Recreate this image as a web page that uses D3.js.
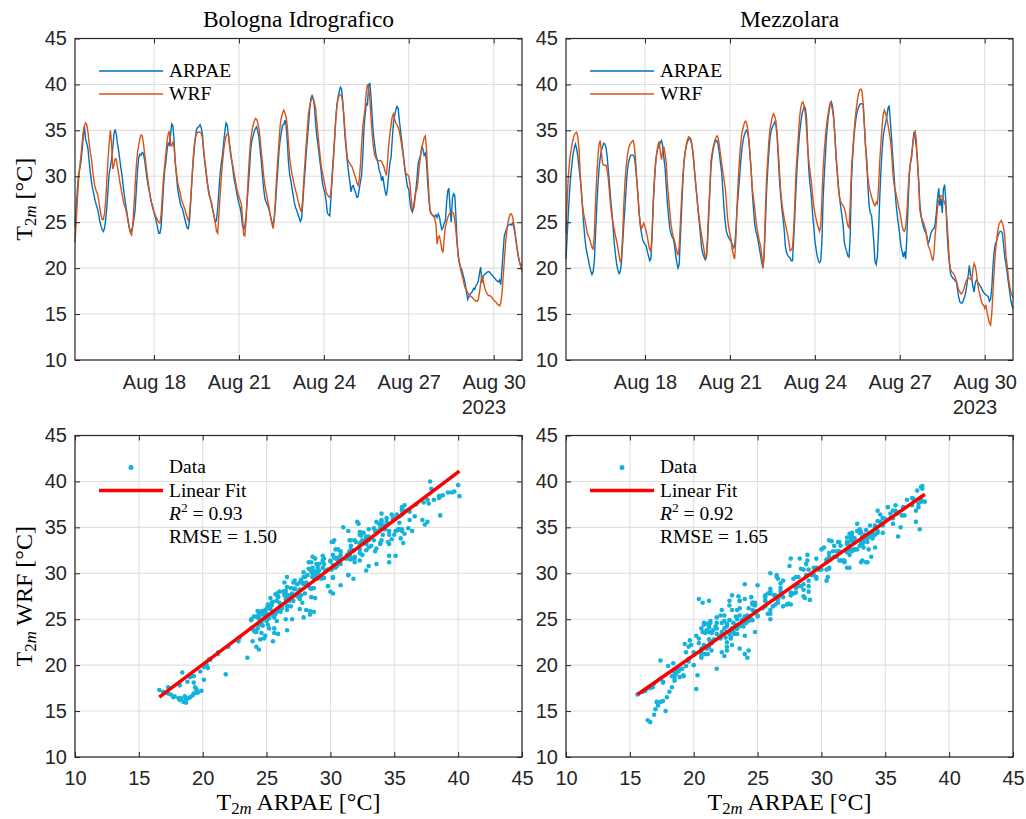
<!DOCTYPE html>
<html>
<head>
<meta charset="utf-8">
<title>T2m ARPAE vs WRF</title>
<script src="https://cdn.jsdelivr.net/npm/d3@7"></script>
<style>
  body { margin: 0; background: #fff; }
  .tick text { font-family: "Liberation Sans", Arial, Helvetica, sans-serif; font-size: 20px; fill: #262626; }
  .yr { font-family: "Liberation Sans", Arial, Helvetica, sans-serif; font-size: 20px; fill: #262626; }
  .tex { font-family: "Liberation Serif", "Times New Roman", serif; fill: #000; }
</style>
</head>
<body>
<svg id="chart" width="1026" height="819"></svg>
<script>
// hourly 2 m temperature, first value 15 Aug 2023 05:00, last 31 Aug 00:00
var hourStart = "2023-08-15T05:00:00Z";
var stations = ["Bologna Idrografico", "Mezzolara"];
var seriesNames = ["ARPAE", "WRF"];

var bolognaArpae = [
  24.5,26.5,28.5,30.2,30.8,31.5,32.8,34.3,35.4,34.0,33.6,33.0,31.6,30.4,29.4,28.6,28.0,27.4,26.9,
  26.5,25.9,25.1,24.6,24.2,24.0,24.3,25.3,26.6,28.6,30.3,31.0,31.9,33.0,34.6,35.1,34.6,33.6,32.8,31.8,30.8,30.0,28.8,27.8,
  26.9,26.1,25.2,24.4,24.0,24.1,24.6,25.4,26.4,28.5,30.6,32.0,32.4,32.3,32.6,32.5,31.8,30.8,29.8,29.0,28.4,27.7,27.1,26.6,
  26.1,25.6,25.0,24.4,23.8,23.8,24.5,26.5,28.8,30.6,31.5,32.8,33.6,33.4,34.5,35.7,35.5,33.9,31.4,30.1,28.7,27.9,27.2,26.7,
  26.5,26.0,25.4,24.9,24.4,24.3,25.0,27.0,29.3,31.2,32.8,34.1,35.1,35.3,35.4,35.6,35.3,34.6,33.0,31.5,30.5,29.5,28.7,28.0,
  27.4,26.8,26.2,25.6,25.0,25.2,26.6,28.4,30.2,31.4,32.3,33.6,34.8,35.8,35.6,34.6,33.4,32.3,31.6,30.6,29.6,29.0,28.3,27.6,
  27.0,26.6,25.8,24.6,24.2,24.6,25.6,27.4,29.0,30.8,33.0,33.9,34.4,34.9,35.2,35.4,34.9,34.2,32.8,31.6,30.0,28.6,27.6,27.2,
  26.9,26.6,26.1,25.5,25.0,24.7,25.5,27.0,29.0,30.8,32.8,34.0,34.8,35.6,35.6,36.1,35.6,33.8,31.5,30.2,29.5,28.7,27.9,27.1,
  26.6,26.3,25.9,25.5,25.1,25.3,26.8,28.8,30.5,32.4,34.0,35.6,37.3,38.5,38.8,38.5,37.6,35.8,34.4,33.5,32.3,31.3,30.2,29.1,
  28.6,28.1,27.2,26.0,25.8,25.7,27.6,30.2,31.9,34.0,36.2,37.7,38.6,39.2,39.7,39.5,38.1,36.2,34.2,32.8,31.5,30.4,29.4,28.3,
  28.9,29.0,28.5,28.2,27.7,27.8,28.6,29.4,30.1,32.2,35.2,36.7,37.9,37.8,40.0,40.1,38.6,36.4,34.6,33.5,32.5,31.9,31.4,30.6,
  30.3,29.5,30.0,29.1,28.3,27.9,28.8,30.2,31.4,32.1,34.0,35.8,36.6,37.2,37.6,37.4,36.1,35.0,33.9,32.8,31.6,30.4,29.6,28.8,
  28.6,27.2,26.4,26.1,26.6,27.6,28.5,29.8,31.4,31.9,32.3,33.2,33.0,32.3,32.5,31.6,29.4,27.6,26.2,25.9,25.8,25.7,25.6,25.8,
  25.5,25.9,25.6,24.8,24.2,24.4,24.9,25.1,27.0,28.4,28.7,26.6,25.0,27.6,28.1,27.9,25.6,22.8,21.2,20.5,20.1,19.8,19.3,18.8,
  18.2,17.3,16.6,16.9,17.2,17.3,17.5,17.8,17.7,18.1,18.3,18.6,19.5,20.1,18.4,19.0,19.3,19.4,19.5,19.6,19.6,19.5,19.3,19.2,
  19.0,18.9,18.7,18.6,18.5,18.7,18.2,19.9,21.8,23.5,23.9,24.3,24.6,24.7,24.8,24.7,24.9,24.5,23.8,22.9,22.0,21.2,20.6,20.3,
  20.4
];

var bolognaWrf = [
  22.8,25.0,27.4,29.5,31.0,32.2,33.6,34.8,35.5,35.8,35.6,34.8,33.6,32.6,31.9,30.6,29.6,28.8,28.4,
  28.1,27.5,26.6,25.8,25.3,25.3,25.9,27.3,29.6,31.8,33.6,35.0,33.6,30.8,31.2,31.9,31.9,31.0,30.3,29.4,28.7,28.0,27.3,26.8,
  26.4,25.8,25.1,24.4,23.8,23.6,24.6,26.8,29.0,31.2,32.6,33.4,34.1,34.5,34.4,33.6,32.5,31.5,30.4,29.4,28.4,27.6,27.0,26.5,
  26.1,25.8,25.5,25.2,25.0,24.9,25.8,27.8,29.8,31.2,32.4,33.8,34.6,34.9,33.4,33.3,33.8,33.2,31.6,30.4,29.4,28.8,28.3,27.6,
  27.2,26.8,26.5,26.0,25.6,25.2,25.6,27.3,29.4,31.6,33.2,34.2,34.6,34.8,34.8,34.8,34.7,34.2,32.8,31.8,30.8,29.5,28.4,27.8,
  27.5,27.0,26.2,25.6,24.9,24.0,23.8,25.9,27.8,29.8,31.4,32.7,33.7,34.3,34.6,34.6,33.6,32.6,31.7,31.0,30.3,29.5,28.8,28.2,
  27.8,27.4,27.0,25.6,23.6,23.5,25.2,27.8,30.2,32.4,34.0,34.9,35.6,36.0,36.3,36.2,35.8,35.2,34.0,32.6,31.4,30.0,29.0,28.3,
  27.6,27.0,26.2,25.5,24.8,24.3,25.4,27.6,30.0,32.0,33.8,35.6,36.4,36.9,37.2,36.9,36.4,35.4,33.6,32.0,31.0,30.2,29.6,29.0,
  28.5,28.0,27.4,26.9,26.4,26.1,27.4,29.6,31.6,33.4,35.2,36.8,37.7,38.2,38.5,38.4,38.0,37.4,36.0,34.6,33.2,32.0,30.9,30.3,
  29.6,29.0,28.3,28.0,27.8,27.7,28.2,29.6,31.6,33.6,35.8,37.6,38.4,38.8,38.9,38.8,38.0,36.7,34.8,33.2,31.9,31.6,31.4,31.2,
  31.0,30.6,30.2,29.8,29.3,29.0,29.6,31.2,33.4,35.4,36.4,37.5,39.2,40.0,39.6,38.4,36.3,34.6,33.2,32.4,32.0,31.8,31.7,31.7,
  31.7,31.6,31.3,31.0,30.5,30.1,31.6,33.4,34.6,35.6,36.5,36.8,36.2,35.8,35.6,35.3,34.9,34.2,33.3,32.5,31.5,30.6,30.2,30.2,
  30.0,29.2,27.6,26.4,26.4,27.2,28.3,28.6,29.8,31.2,32.2,33.0,33.6,34.2,34.4,33.0,30.6,28.2,26.4,26.0,25.8,25.6,25.4,24.8,
  22.6,23.4,23.5,22.9,22.0,21.7,23.2,24.4,25.0,25.5,25.8,26.0,26.1,26.1,26.0,25.2,24.0,22.6,21.4,20.6,19.8,19.3,18.8,18.2,
  17.8,17.6,17.3,17.1,17.0,16.9,16.8,16.6,16.5,16.4,16.4,16.6,17.4,18.4,19.2,18.7,18.1,17.6,17.3,17.1,17.0,17.0,16.9,16.7,
  16.5,16.4,16.3,16.1,16.0,15.9,16.2,17.2,19.0,20.8,22.6,24.0,24.9,25.5,25.9,25.9,25.6,24.9,24.0,23.0,22.0,21.2,20.6,20.1,
  19.7
];

var mezzolaraArpae = [
  21.0,23.5,26.0,28.3,30.0,31.3,32.4,33.1,33.5,33.0,32.2,31.0,29.8,28.6,26.6,24.8,23.3,22.2,21.5,
  20.9,20.2,19.7,19.3,19.6,20.7,23.6,26.5,28.9,30.8,32.0,32.8,33.2,33.6,33.5,33.1,32.0,30.5,29.0,27.3,26.0,24.3,22.6,21.4,
  20.4,19.8,19.4,19.6,20.6,22.6,24.8,26.6,28.8,30.6,31.5,32.0,32.3,32.3,32.3,32.1,31.0,29.6,28.0,26.0,24.6,23.8,23.1,22.8,
  22.6,22.4,21.8,21.3,20.8,21.0,23.4,27.0,29.4,31.6,32.6,33.1,33.3,33.7,33.9,33.3,32.0,30.9,28.9,27.0,25.6,24.3,23.8,23.4,
  23.2,22.5,21.4,20.6,20.0,20.4,23.4,26.3,29.2,31.6,32.6,33.3,33.8,34.0,34.2,34.0,33.2,32.2,30.6,29.0,27.8,26.2,25.0,23.6,
  22.2,21.6,21.2,20.9,21.1,22.8,25.6,28.6,31.2,32.3,33.1,33.6,33.9,33.9,33.4,32.5,31.4,30.4,28.4,26.5,25.0,24.0,23.6,23.3,
  23.1,22.9,22.6,22.2,22.4,24.0,26.4,28.0,29.6,31.4,32.8,33.8,34.4,34.8,35.0,34.8,34.0,32.4,30.6,28.2,26.4,24.8,24.0,23.6,
  22.9,22.1,21.4,20.6,20.0,21.4,24.6,28.2,30.6,32.6,34.2,35.0,35.4,35.6,35.9,35.6,34.4,32.0,29.6,28.0,26.5,25.4,24.2,22.4,
  21.7,21.4,21.2,21.1,20.8,20.8,23.0,25.6,28.6,31.2,33.0,34.6,35.8,36.7,37.2,37.6,37.4,36.2,33.0,30.4,29.0,27.8,26.0,24.6,
  23.0,22.1,21.3,20.8,20.6,20.8,23.0,27.5,30.2,32.4,34.6,36.0,37.1,37.8,38.1,37.6,36.3,34.4,32.0,30.4,29.0,27.6,26.6,25.6,
  24.6,22.8,22.2,21.8,21.3,21.2,23.6,29.4,32.0,34.0,35.4,36.4,37.1,37.5,37.8,37.9,37.9,37.8,35.6,33.2,31.8,28.8,26.8,26.0,
  25.8,24.5,22.8,20.7,20.4,21.2,24.0,27.6,30.6,32.8,34.4,35.2,35.8,36.5,37.4,37.7,36.0,34.2,32.2,30.4,28.4,26.8,25.6,24.6,
  23.6,22.4,21.8,21.2,21.8,21.0,23.4,26.8,30.0,31.4,32.0,33.6,34.8,34.2,33.2,31.8,29.6,27.0,25.8,25.0,24.5,24.1,23.9,23.4,
  22.6,23.0,23.6,24.0,24.2,24.3,24.8,26.0,27.6,28.7,26.8,27.6,26.0,28.6,29.1,27.4,24.2,22.0,20.6,19.4,19.1,18.9,18.8,18.6,
  18.5,17.6,16.8,16.3,16.2,16.2,16.5,16.9,17.4,18.3,19.2,20.3,19.2,18.9,18.0,17.4,18.4,18.7,18.5,18.3,18.1,17.9,17.6,17.4,
  17.2,17.1,17.0,16.9,16.4,16.6,17.8,20.2,21.8,22.6,22.9,23.4,23.8,24.0,24.0,23.8,22.6,21.2,20.5,19.6,18.5,17.6,16.6,16.0,
  15.6
];

var mezzolaraWrf = [
  23.8,27.5,30.0,31.6,32.6,33.4,34.0,34.5,34.7,34.8,34.3,33.0,30.4,28.2,26.8,25.9,25.3,24.6,23.8,
  23.5,23.2,22.7,22.3,22.0,23.6,27.0,29.8,32.0,33.5,33.9,32.6,31.4,31.2,31.2,31.2,30.6,29.6,28.0,26.6,25.6,24.8,24.2,23.5,
  22.9,22.2,21.4,20.7,21.0,23.6,26.8,29.4,31.0,32.2,33.0,33.4,33.6,33.8,33.9,33.2,31.8,29.6,27.9,26.0,24.9,24.3,24.6,24.9,
  24.5,24.0,23.4,22.6,22.0,21.8,24.0,27.4,29.8,31.4,32.6,33.4,33.8,32.6,31.8,32.8,33.2,32.4,31.4,29.2,27.6,26.2,24.8,24.0,
  23.4,23.0,22.4,21.8,21.4,22.4,25.0,27.6,29.8,31.4,32.6,33.4,34.0,34.3,34.2,33.8,33.2,32.0,30.5,29.2,27.8,26.4,25.4,24.4,
  23.6,22.8,22.0,21.2,21.2,23.4,26.4,28.8,31.8,32.6,33.3,33.8,34.2,34.4,34.2,33.4,32.4,31.4,30.5,29.6,28.7,27.2,25.4,24.4,
  23.7,23.1,22.0,21.4,21.0,23.2,26.6,29.6,31.6,33.4,34.6,35.2,35.7,36.0,35.9,35.2,34.0,32.4,30.6,28.6,27.6,26.5,25.3,24.3,
  23.6,22.9,22.4,21.4,20.0,21.6,26.0,29.6,31.8,33.8,35.2,35.9,36.5,36.8,36.5,36.0,34.6,32.6,30.6,28.4,27.2,26.2,25.4,24.8,
  24.2,23.6,22.8,21.9,22.0,22.2,24.0,27.0,30.4,32.4,34.4,36.4,37.4,38.0,38.1,37.6,36.8,35.0,33.0,31.5,30.4,29.4,28.0,26.8,
  26.0,25.4,24.8,24.4,24.0,24.6,27.6,30.8,32.8,34.4,35.6,36.6,37.4,38.0,37.8,37.2,36.3,34.4,32.4,30.4,28.6,27.6,27.2,27.0,
  26.8,26.5,26.0,25.2,24.6,24.4,27.0,30.6,32.6,34.4,36.0,37.2,38.2,39.0,39.4,39.5,39.2,37.8,35.4,33.2,31.2,29.8,28.9,28.3,
  27.8,27.4,27.0,26.8,27.2,27.0,28.8,31.6,33.6,35.4,36.8,37.2,36.8,36.3,35.6,34.8,34.0,32.8,30.6,29.2,28.6,28.0,27.4,26.6,
  26.2,25.4,24.6,24.1,24.0,24.5,26.0,28.4,30.4,31.4,32.3,33.4,34.4,35.0,34.0,31.4,29.4,26.4,25.6,25.3,25.0,24.6,24.2,23.4,
  22.5,22.2,21.8,21.2,20.8,21.6,23.6,25.0,26.6,27.3,27.6,27.9,27.8,27.5,27.1,26.7,25.2,23.2,20.8,19.9,19.6,19.5,19.3,19.0,
  18.6,18.1,17.6,17.4,17.2,17.3,17.6,18.0,18.5,18.8,18.9,18.9,18.8,18.7,19.9,20.5,20.2,19.5,18.3,17.6,17.1,16.5,16.1,16.0,
  15.6,16.0,15.2,14.6,14.0,13.8,15.0,17.4,19.6,21.6,22.9,24.0,24.7,25.0,25.2,24.9,24.4,23.6,21.4,20.4,19.2,18.2,17.5,17.1,
  16.8
];

var dateTicks = ["2023-08-18", "2023-08-21", "2023-08-24", "2023-08-27", "2023-08-30"];
var yearLabel = "2023";
var tempTicks = [10, 15, 20, 25, 30, 35, 40, 45];

// linear fit WRF = a * ARPAE + b, and its scores, as printed on the figure
var fitSlope = [1.047, 0.969];
var fitIntercept = [-0.87, 1.69];
var fitR2 = ["0.93", "0.92"];
var fitRmse = ["1.50", "1.65"];

var W = 447, H = 321.5;
var colX = [75, 566];
var rowY = [38.5, 435.5];
var colArpae = "#0072bd", colWrf = "#d95319", colDots = "#14b3dc", colFit = "#ff0000";
var colAxis = "#262626", colGrid = "#dfdfdf";

var svg = d3.select("#chart");
var parseDay = d3.utcParse("%Y-%m-%d");
var t0 = Date.parse(hourStart);
function hourAt(i) { return new Date(t0 + i * 3600e3); }

var data = [
  { arpae: bolognaArpae, wrf: bolognaWrf },
  { arpae: mezzolaraArpae, wrf: mezzolaraWrf }
];

var x = d3.scaleUtc()
  .domain([hourAt(0), hourAt(bolognaArpae.length - 1)])
  .range([0, W]);
var xs = d3.scaleLinear().domain([10, 45]).range([0, W]);
var y = d3.scaleLinear().domain([10, 45]).range([H, 0]);

function grid(g, xScale, xVals) {
  g.append("g").selectAll("line").data(xVals).join("line")
    .attr("x1", function(d){ return xScale(d); }).attr("x2", function(d){ return xScale(d); })
    .attr("y1", 0).attr("y2", H)
    .attr("stroke", colGrid).attr("stroke-width", 1.1);
  g.append("g").selectAll("line").data(tempTicks).join("line")
    .attr("x1", 0).attr("x2", W)
    .attr("y1", function(d){ return y(d); }).attr("y2", function(d){ return y(d); })
    .attr("stroke", colGrid).attr("stroke-width", 1.1);
}

function axes(g, xScale, xVals, fmt, pad) {
  var tk = 5;
  g.append("g").attr("transform", "translate(0," + H + ")")
    .call(d3.axisBottom(xScale).tickValues(xVals).tickFormat(fmt).tickSize(-tk).tickPadding(pad));
  g.append("g")
    .call(d3.axisTop(xScale).tickValues(xVals).tickFormat("").tickSize(-tk));
  g.append("g")
    .call(d3.axisLeft(y).tickValues(tempTicks).tickSize(-tk).tickPadding(8));
  g.append("g").attr("transform", "translate(" + W + ",0)")
    .call(d3.axisRight(y).tickValues(tempTicks).tickFormat("").tickSize(-tk));
  g.selectAll(".domain").remove();
  g.selectAll(".tick line").attr("stroke", colAxis).attr("stroke-width", 1);
  g.append("rect").attr("width", W).attr("height", H)
    .attr("fill", "none").attr("stroke", colAxis).attr("stroke-width", 1.2);
}

// T_{2m} followed by the rest of the label
function t2m(text, rest, size) {
  text.append("tspan").text("T");
  text.append("tspan").attr("dy", size * 0.18).attr("font-size", size * 0.7).text("2");
  text.append("tspan").attr("font-size", size * 0.7).attr("font-style", "italic").text("m");
  text.append("tspan").attr("dy", -size * 0.18).text(" " + rest);
}

function legendText(g, px, py, s) {
  return g.append("text").attr("class", "tex").attr("x", px).attr("y", py)
    .attr("font-size", 19.5).text(s);
}

// ---- time series ----
var dayTicks = dateTicks.map(parseDay);
stations.forEach(function(name, c) {
  var g = svg.append("g").attr("transform", "translate(" + colX[c] + "," + rowY[0] + ")");
  grid(g, x, dayTicks);

  var line = d3.line()
    .x(function(d, i){ return x(hourAt(i)); })
    .y(function(d){ return y(d); });
  g.append("path").datum(data[c].arpae).attr("d", line)
    .attr("fill", "none").attr("stroke", colArpae).attr("stroke-width", 1.4);
  g.append("path").datum(data[c].wrf).attr("d", line)
    .attr("fill", "none").attr("stroke", colWrf).attr("stroke-width", 1.4);

  axes(g, x, dayTicks, d3.utcFormat("%b %d"), 15);

  g.append("text").attr("class", "yr").attr("x", W - 38).attr("y", H + 54)
    .attr("text-anchor", "middle").text(yearLabel);

  g.append("text").attr("class", "tex").attr("x", W / 2).attr("y", -12)
    .attr("text-anchor", "middle").attr("font-size", 23.5).text(name);

  // legend
  [colArpae, colWrf].forEach(function(cl, k) {
    g.append("line").attr("x1", 24).attr("x2", 88)
      .attr("y1", 32.5 + k * 23).attr("y2", 32.5 + k * 23)
      .attr("stroke", cl).attr("stroke-width", 1.4);
    legendText(g, 94, 38.5 + k * 23, seriesNames[k]);
  });
});

// ---- scatter ----
stations.forEach(function(name, c) {
  var g = svg.append("g").attr("transform", "translate(" + colX[c] + "," + rowY[1] + ")");
  grid(g, xs, tempTicks);

  var pairs = d3.zip(data[c].arpae, data[c].wrf);
  g.append("g").selectAll("circle").data(pairs).join("circle")
    .attr("cx", function(d){ return xs(d[0]); })
    .attr("cy", function(d){ return y(d[1]); })
    .attr("r", 2.3).attr("fill", colDots);

  var ext = d3.extent(data[c].arpae);
  var fit = ext.map(function(v){ return [v, fitSlope[c] * v + fitIntercept[c]]; });
  g.append("path").datum(fit)
    .attr("d", d3.line().x(function(d){ return xs(d[0]); }).y(function(d){ return y(d[1]); }))
    .attr("stroke", colFit).attr("stroke-width", 3.5).attr("fill", "none");

  axes(g, xs, tempTicks, d3.format("d"), 13.5);

  // legend
  g.append("circle").attr("cx", 56).attr("cy", 32).attr("r", 2.5).attr("fill", colDots);
  legendText(g, 94, 37.5, "Data");
  g.append("line").attr("x1", 24).attr("x2", 88).attr("y1", 55).attr("y2", 55)
    .attr("stroke", colFit).attr("stroke-width", 3.5);
  legendText(g, 94, 61, "Linear Fit");
  var r2 = g.append("text").attr("class", "tex").attr("x", 94).attr("y", 84).attr("font-size", 19.5);
  r2.append("tspan").attr("font-style", "italic").text("R");
  r2.append("tspan").attr("dy", -8).attr("font-size", 13.5).text("2");
  r2.append("tspan").attr("dy", 8).text(" = " + fitR2[c]);
  legendText(g, 94, 107, "RMSE = " + fitRmse[c]);

  // x label
  var xl = g.append("text").attr("class", "tex").attr("x", W / 2).attr("y", H + 52.5)
    .attr("text-anchor", "middle").attr("font-size", 24);
  t2m(xl, "ARPAE [\u00b0C]", 24);
});

// y labels
[["[\u00b0C]", rowY[0]], ["WRF [\u00b0C]", rowY[1]]].forEach(function(l) {
  var t = svg.append("text").attr("class", "tex")
    .attr("transform", "translate(32," + (l[1] + H / 2) + ") rotate(-90)")
    .attr("text-anchor", "middle").attr("font-size", 24);
  t2m(t, l[0], 24);
});
</script>
</body>
</html>
